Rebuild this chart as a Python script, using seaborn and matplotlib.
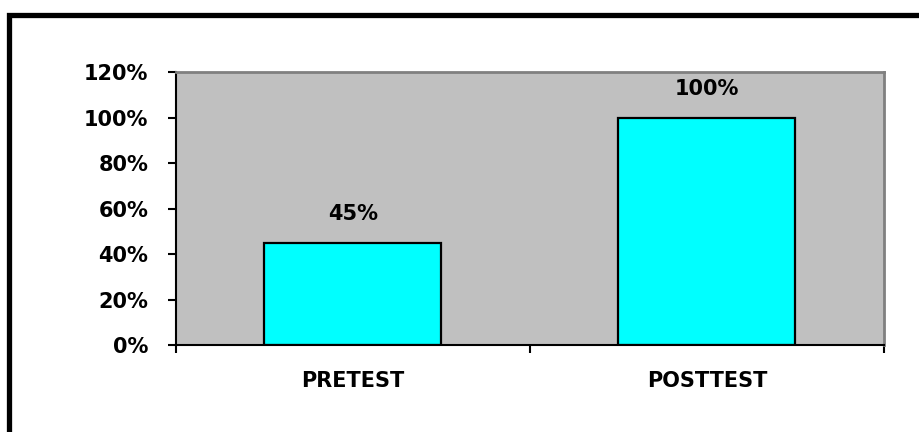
import matplotlib
matplotlib.use("Agg")
import numpy as np
import pandas as pd
import seaborn as sns
import matplotlib.pyplot as plt
from matplotlib.patches import Rectangle
from matplotlib.ticker import FixedLocator, PercentFormatter

categories = ["PRETEST", "POSTTEST"]
percent_values = [45, 100]
y_ticks = [0, 20, 40, 60, 80, 100, 120]

df = pd.DataFrame({"test": categories, "pct": percent_values})

sns.set_style("white")
plt.rcParams["font.family"] = ["DejaVu Sans"]

fig = plt.figure(figsize=(9.2, 4.32), dpi=100)
ax = fig.add_axes([176 / 920, 1 - 345 / 432, (884 - 176) / 920, (345 - 72) / 432])
ax.set_facecolor("#c0c0c0")

sns.barplot(data=df, x="test", y="pct", color="#00ffff", edgecolor="black",
            linewidth=1.6, width=0.5, saturation=1, ax=ax)

# value labels above the bars
for i, v in enumerate(percent_values):
    ax.text(i, v + 8, f"{v}%", ha="center", va="bottom",
            fontsize=15, fontweight="bold", color="black")

ax.set_ylim(0, 120)
ax.set_xlim(-0.5, 1.5)
ax.set_yticks(y_ticks)
ax.yaxis.set_major_formatter(PercentFormatter(decimals=0))
ax.set_xlabel("")
ax.set_ylabel("")

ax.tick_params(axis="y", which="major", direction="out", length=6, width=1.5,
               color="black", left=True, labelsize=15, pad=14,
               labelcolor="black")
ax.tick_params(axis="x", which="major", length=0, labelsize=15, pad=19,
               labelcolor="black")
ax.xaxis.set_minor_locator(FixedLocator([-0.5, 0.5, 1.5]))
ax.tick_params(axis="x", which="minor", direction="out", length=6, width=1.5,
               color="black", bottom=True)
for lab in ax.get_xticklabels() + ax.get_yticklabels():
    lab.set_fontweight("bold")

for side in ["left", "bottom"]:
    ax.spines[side].set_color("black")
    ax.spines[side].set_linewidth(1.5)
for side in ["top", "right"]:
    ax.spines[side].set_color("#808080")
    ax.spines[side].set_linewidth(2)

# thick black frame round the chart
fig.patches.append(Rectangle((9.5 / 920, -0.1), 1.2, 1 - 14.5 / 432 + 0.1,
                             transform=fig.transFigure, fill=False,
                             edgecolor="black", linewidth=3.8))

fig.savefig("out.png", dpi=100, facecolor="white")
